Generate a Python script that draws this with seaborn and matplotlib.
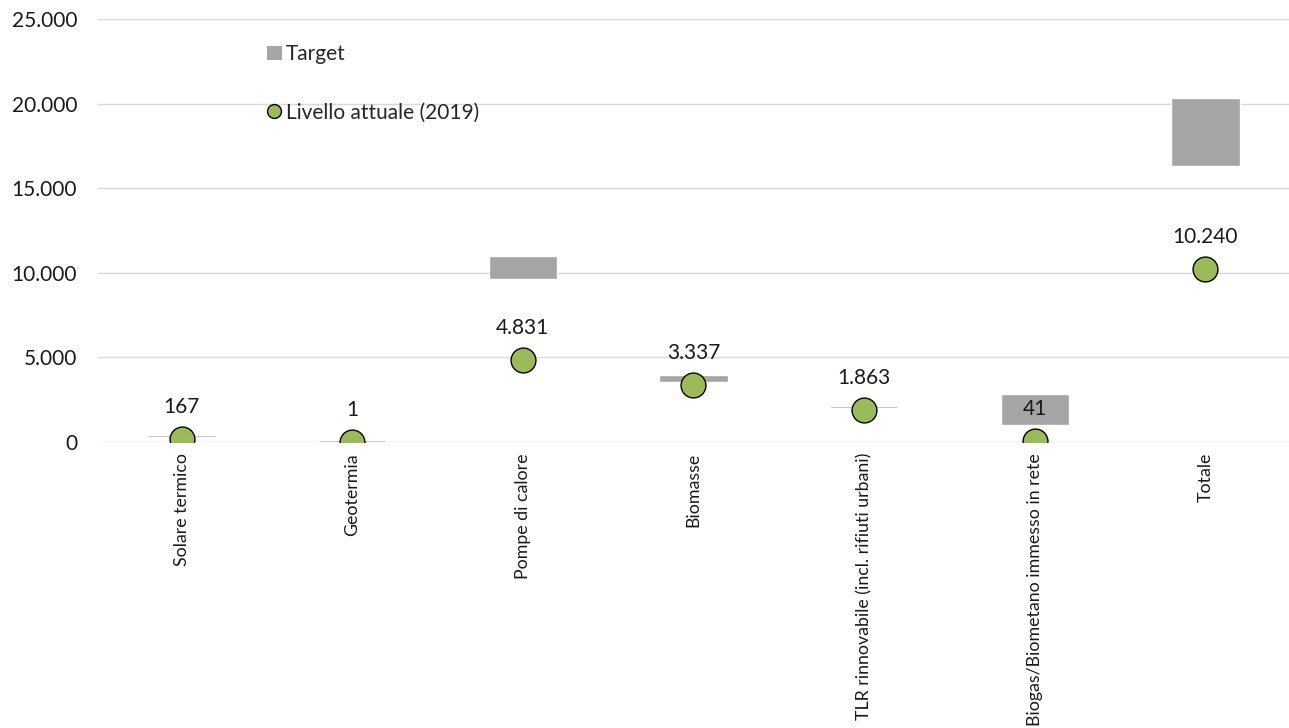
import matplotlib
matplotlib.use("Agg")
import matplotlib.pyplot as plt
import matplotlib.ticker as mticker
from matplotlib.patches import Patch
from matplotlib.lines import Line2D
import seaborn as sns
import pandas as pd

# --- Data ---
categories = ["Solare termico", "Geotermia", "Pompe di calore", "Biomasse",
              "TLR rinnovabile (incl. rifiuti urbani)",
              "Biogas/Biometano immesso in rete", "Totale"]
current_2019 = [167, 1, 4831, 3337, 1863, 41, 10240]
target_low = [310, 10, 9640, 3540, 1980, 990, 16300]
target_high = [400, 90, 11000, 3940, 2120, 2860, 20300]

df = pd.DataFrame({"Categoria": categories, "Attuale": current_2019,
                   "Min": target_low, "Max": target_high})

def it_fmt(v):
    return f"{int(v):,}".replace(",", ".")

# --- Styling ---
sns.set_theme(style="white")
plt.rcParams['font.family'] = ['Lato', 'DejaVu Sans']

fig = plt.figure(figsize=(12.89, 7.28), dpi=100)
ax = fig.add_axes([0.076, 0.393, 0.924, 0.581])

gray = "#A5A5A5"
green = "#9BBB59"

# target ranges as floating bars
ax.bar(df["Categoria"], df["Max"] - df["Min"], bottom=df["Min"],
       width=0.4, color=gray, zorder=2)

# current level points
sns.scatterplot(data=df, x="Categoria", y="Attuale", ax=ax, s=320,
                color=green, edgecolor="black", linewidth=1, zorder=3,
                legend=False)

for i, v in enumerate(df["Attuale"]):
    ax.annotate(it_fmt(v), (i, v), xytext=(0, 23), textcoords="offset points",
                ha="center", va="center", fontsize=15, color="#1a1a1a", zorder=4)

ax.set_ylim(0, 25000)
ax.set_xlim(-0.49, 6.49)
ax.yaxis.set_major_locator(mticker.MultipleLocator(5000))
ax.yaxis.set_major_formatter(mticker.FuncFormatter(lambda v, p: it_fmt(v)))
ax.grid(axis="y", color="#D9D9D9", linewidth=1, zorder=0)
ax.set_axisbelow(True)
for s in ax.spines.values():
    s.set_visible(False)
ax.set_xlabel("")
ax.set_ylabel("")
ax.tick_params(axis="y", labelsize=15, length=0, pad=15, labelcolor="#1a1a1a")
ax.tick_params(axis="x", labelsize=12.8, length=0, pad=8, labelcolor="#1a1a1a")
plt.setp(ax.get_xticklabels(), rotation=90, va="top", ha="center")

handles = [Patch(facecolor=gray, edgecolor="none", label="Target"),
           Line2D([0], [0], marker="o", linestyle="none", markersize=10,
                  markerfacecolor=green, markeredgecolor="black",
                  markeredgewidth=1, label="Livello attuale (2019)")]
ax.legend(handles=handles, loc="upper left", bbox_to_anchor=(0.135, 0.96),
          frameon=False, fontsize=15, handlelength=0.7, handleheight=0.7,
          handletextpad=0.2, labelspacing=1.85, borderaxespad=0)

fig.savefig("out.png", dpi=100)
